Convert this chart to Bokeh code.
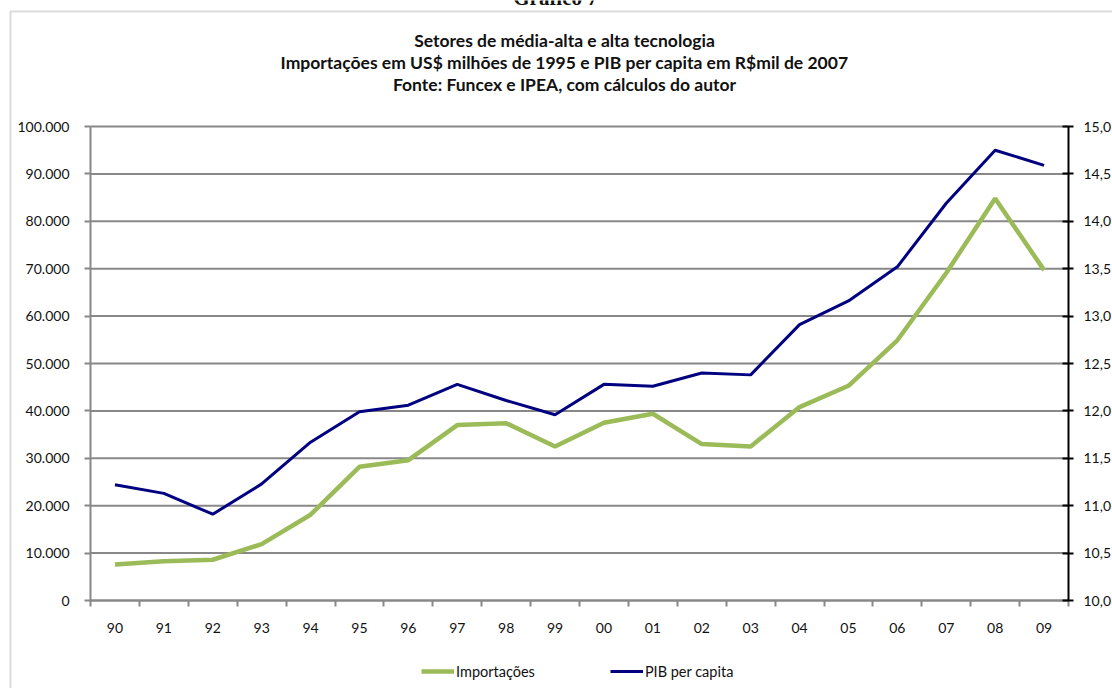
from bokeh.plotting import figure
from bokeh.models import (LinearAxis, Range1d, FixedTicker, Label, Legend, LegendItem,
                          BoxAnnotation)
from bokeh.embed import file_html
from bokeh.resources import INLINE

years = ["90", "91", "92", "93", "94", "95", "96", "97", "98", "99",
         "00", "01", "02", "03", "04", "05", "06", "07", "08", "09"]
importacoes = [7600, 8300, 8600, 11900, 18100, 28200, 29600, 37000, 37400, 32500,
               37500, 39400, 33000, 32500, 40800, 45300, 54900, 69100, 84800, 69700]
pib_per_capita = [11.22, 11.13, 10.91, 11.23, 11.67, 11.99, 12.06, 12.28, 12.11, 11.96,
                  12.28, 12.26, 12.40, 12.38, 12.91, 13.16, 13.52, 14.19, 14.75, 14.59]
left_ticks = list(range(0, 100001, 10000))
right_ticks = [10.0, 10.5, 11.0, 11.5, 12.0, 12.5, 13.0, 13.5, 14.0, 14.5, 15.0]
title_lines = ["Setores de média-alta e alta tecnologia",
               "Importações em US$ milhões de 1995 e PIB per capita em R$mil de 2007",
               "Fonte: Funcex e IPEA, com cálculos do autor"]
chart_caption = "Gráfico 7"

FONT = "Lato"
GRAY = "#888888"
GREEN = "#9BBB59"
NAVY = "#000080"
TICK_FS = "14px"

# ---- layout (pixels) ----
W, H = 1112, 688
PL, PR, PT, PB = 90, 1068, 126, 600      # plot area edges
n = len(years)
xs = list(range(n))
x0, x1 = -0.5, n - 0.5
ly0, ly1 = left_ticks[0], left_ticks[-1]
ry0, ry1 = right_ticks[0], right_ticks[-1]

def extend(a, b, lo_px, hi_px, total):
    per = (b - a) / (hi_px - lo_px)
    return a - lo_px * per, b + (total - hi_px) * per

xr = extend(x0, x1, PL, PR, W)
lyr = extend(ly0, ly1, H - PB, H - PT, H)
ryr = extend(ry0, ry1, H - PB, H - PT, H)

p = figure(width=W, height=H, output_backend="svg", toolbar_location=None,
           x_range=Range1d(*xr), y_range=Range1d(*lyr),
           min_border=0, x_axis_type=None, y_axis_type=None)
p.outline_line_color = None
p.background_fill_color = "white"
p.border_fill_color = "white"
p.xgrid.visible = False
p.ygrid.visible = False
p.extra_y_ranges = {"pib": Range1d(*ryr)}

# horizontal grid lines at the left-axis ticks
p.segment(x0=[x0] * len(left_ticks), y0=left_ticks, x1=[x1] * len(left_ticks), y1=left_ticks,
          line_color=GRAY, line_width=2)

# bottom axis: labels at centres, ticks at boundaries (minor ticks)
xaxis = LinearAxis(ticker=FixedTicker(ticks=xs, minor_ticks=[i - 0.5 for i in range(n + 1)]),
                   major_label_overrides={i: y for i, y in enumerate(years)},
                   fixed_location=ly0, bounds=(x0, x1))
xaxis.major_tick_out = 0
xaxis.major_tick_in = 0
xaxis.minor_tick_out = 6
xaxis.minor_tick_in = 0
xaxis.minor_tick_line_color = GRAY
xaxis.minor_tick_line_width = 2
xaxis.axis_line_color = GRAY
xaxis.axis_line_width = 2
xaxis.major_label_standoff = 16
xaxis.major_label_text_font = FONT
xaxis.major_label_text_font_size = TICK_FS
xaxis.major_label_text_color = "#111111"
p.add_layout(xaxis, "below")

# left axis
yaxis = LinearAxis(ticker=FixedTicker(ticks=left_ticks),
                   major_label_overrides={t: (f"{t:,}".replace(",", ".")) for t in left_ticks},
                   fixed_location=x0, bounds=(ly0, ly1))
yaxis.major_tick_out = 6
yaxis.major_tick_in = 0
yaxis.minor_tick_out = 0
yaxis.minor_tick_in = 0
yaxis.major_tick_line_color = GRAY
yaxis.major_tick_line_width = 2
yaxis.axis_line_color = GRAY
yaxis.axis_line_width = 2
yaxis.major_label_standoff = 15
yaxis.major_label_text_font = FONT
yaxis.major_label_text_font_size = TICK_FS
yaxis.major_label_text_color = "#111111"
p.add_layout(yaxis, "left")

# right axis
raxis = LinearAxis(y_range_name="pib", ticker=FixedTicker(ticks=right_ticks),
                   major_label_overrides={t: f"{t:.1f}".replace(".", ",") for t in right_ticks},
                   fixed_location=x1, bounds=(ry0, ry1))
raxis.major_tick_out = 5
raxis.major_tick_in = 6
raxis.minor_tick_out = 0
raxis.minor_tick_in = 0
raxis.major_tick_line_color = "black"
raxis.major_tick_line_width = 2
raxis.axis_line_color = "black"
raxis.axis_line_width = 2
raxis.major_label_standoff = 10
raxis.major_label_text_font = FONT
raxis.major_label_text_font_size = TICK_FS
raxis.major_label_text_color = "#111111"
p.add_layout(raxis, "right")

r_imp = p.line(xs, importacoes, line_color=GREEN, line_width=4.5)
r_pib = p.line(xs, pib_per_capita, line_color=NAVY, line_width=3, y_range_name="pib")

legend = Legend(items=[LegendItem(label="Importações", renderers=[r_imp]),
                       LegendItem(label="PIB per capita", renderers=[r_pib])],
                orientation="horizontal", location=(421, H - 681),
                padding=0, margin=0, spacing=75, glyph_width=33, glyph_height=20,
                label_standoff=2, label_text_font=FONT, label_text_font_size="14.5px",
                label_text_color="#111111",
                background_fill_alpha=0, border_line_color=None)
p.add_layout(legend, "center")

# titles (screen units; the frame covers the whole canvas)
for i, t in enumerate(title_lines):
    p.add_layout(Label(x=564, y=H - (40 + 22 * i), x_units="screen", y_units="screen", text=t,
                       text_align="center", text_baseline="middle",
                       text_font=FONT, text_font_style="bold", text_font_size="17.5px",
                       text_color="#111111"))
p.add_layout(Label(x=555, y=H + 3, x_units="screen", y_units="screen", text=chart_caption,
                   text_align="center", text_baseline="alphabetic",
                   text_font="Liberation Serif", text_font_style="bold", text_font_size="21px",
                   text_color="#111111"))

# outer chart border (only its left and top edges fall inside the picture)
p.add_layout(BoxAnnotation(left=10, right=W + 50, top=H - 11, bottom=-50,
                           left_units="screen", right_units="screen",
                           top_units="screen", bottom_units="screen",
                           fill_alpha=0, line_color=GRAY, line_width=2))

open("out.html", "w").write(file_html(p, INLINE))
